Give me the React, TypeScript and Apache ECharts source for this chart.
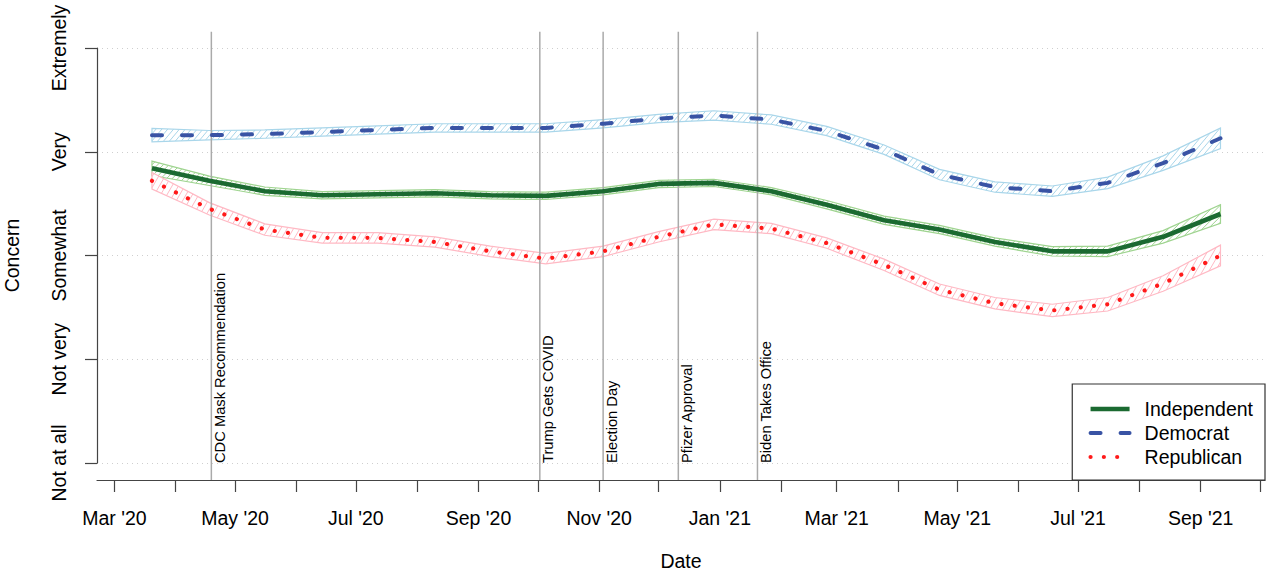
import React, { useEffect, useRef } from "react";
import * as echarts from "echarts";

// survey waves (monthly-ish)
const dates = [
  "2020-03-20", "2020-04-18", "2020-05-16", "2020-06-14", "2020-07-12",
  "2020-08-10", "2020-09-07", "2020-10-05", "2020-11-03", "2020-12-01",
  "2020-12-29", "2021-01-27", "2021-02-24", "2021-03-25", "2021-04-22",
  "2021-05-20", "2021-06-18", "2021-07-16", "2021-08-13", "2021-09-11",
];

const independent = [2.84, 2.72, 2.62, 2.58, 2.59, 2.6, 2.58, 2.575, 2.62, 2.69, 2.7, 2.62, 2.49, 2.34, 2.25, 2.13, 2.04, 2.04, 2.18, 2.4];
const democrat = [3.16, 3.16, 3.17, 3.19, 3.21, 3.23, 3.23, 3.23, 3.27, 3.32, 3.35, 3.31, 3.2, 3.02, 2.78, 2.66, 2.62, 2.7, 2.89, 3.13];
const republican = [2.72, 2.45, 2.25, 2.17, 2.17, 2.13, 2.04, 1.97, 2.04, 2.18, 2.3, 2.26, 2.12, 1.91, 1.67, 1.54, 1.47, 1.53, 1.73, 2.0];

// half widths of the confidence bands
const independentCI = [0.07, 0.045, 0.04, 0.035, 0.035, 0.035, 0.035, 0.035, 0.035, 0.035, 0.035, 0.035, 0.04, 0.04, 0.04, 0.04, 0.045, 0.05, 0.06, 0.09];
const democratCI = [0.065, 0.045, 0.04, 0.04, 0.04, 0.04, 0.04, 0.04, 0.04, 0.04, 0.045, 0.045, 0.045, 0.045, 0.05, 0.05, 0.05, 0.055, 0.07, 0.1];
const republicanCI = [0.08, 0.06, 0.055, 0.05, 0.05, 0.05, 0.05, 0.05, 0.05, 0.05, 0.05, 0.05, 0.05, 0.055, 0.055, 0.055, 0.06, 0.065, 0.075, 0.1];

const eventNames = ["CDC Mask Recommendation", "Trump Gets COVID", "Election Day", "Pfizer Approval", "Biden Takes Office"];
const eventDates = ["2020-04-19", "2020-10-02", "2020-11-03", "2020-12-11", "2021-01-20"];

const levels = ["Not at all", "Not very", "Somewhat", "Very", "Extremely"];
const tickMonths = [
  "2020-03-01", "2020-04-01", "2020-05-01", "2020-06-01", "2020-07-01",
  "2020-08-01", "2020-09-01", "2020-10-01", "2020-11-01", "2020-12-01",
  "2021-01-01", "2021-02-01", "2021-03-01", "2021-04-01", "2021-05-01",
  "2021-06-01", "2021-07-01", "2021-08-01", "2021-09-01", "2021-10-01",
];
const monthNames = ["Jan", "Feb", "Mar", "Apr", "May", "Jun", "Jul", "Aug", "Sep", "Oct", "Nov", "Dec"];

const xRange = ["2020-02-21T05:00:00", "2021-10-03T12:00:00"];
const eventLineRange = [-0.164, 4.157];

const FONT = "'Liberation Sans', Arial, Helvetica, sans-serif";
const t = (s: string) => echarts.time.parse(s).getTime();

const band = (mid: number[], half: number[], color: string, angle: number, gap: number) => ({
  type: "custom",
  silent: true,
  z: 2,
  data: [[t(dates[0]), mid[0]]],
  renderItem: (params: any, api: any) => {
    const up = dates.map((d, i) => api.coord([t(d), mid[i] + half[i]]));
    const lo = dates.map((d, i) => api.coord([t(d), mid[i] - half[i]]));
    const poly = up.concat(lo.slice().reverse());
    const a = (angle * Math.PI) / 180;
    const nx = Math.sin(a);
    const ny = Math.cos(a);
    const proj = poly.map((p: number[]) => p[0] * nx + p[1] * ny);
    const pMin = Math.min(...proj);
    const pMax = Math.max(...proj);
    const hatch: any[] = [];
    for (let c = Math.ceil(pMin / gap) * gap; c < pMax; c += gap) {
      const hits: number[][] = [];
      for (let k = 0; k < poly.length; k++) {
        const k2 = (k + 1) % poly.length;
        const fp = proj[k] - c;
        const fq = proj[k2] - c;
        if (fp < 0 !== fq < 0) {
          const s = fp / (fp - fq);
          hits.push([poly[k][0] + s * (poly[k2][0] - poly[k][0]), poly[k][1] + s * (poly[k2][1] - poly[k][1])]);
        }
      }
      hits.sort((u, v) => u[0] - v[0]);
      for (let k = 0; k + 1 < hits.length; k += 2) {
        hatch.push({
          type: "line",
          shape: { x1: hits[k][0], y1: hits[k][1], x2: hits[k + 1][0], y2: hits[k + 1][1] },
          style: { stroke: color, lineWidth: 1 },
        });
      }
    }
    return {
      type: "group",
      children: [
        { type: "polygon", shape: { points: poly }, style: { fill: "#fff", stroke: null } },
        ...hatch,
        { type: "polygon", shape: { points: poly }, style: { fill: null, stroke: color, lineWidth: 1.2 } },
      ],
    };
  },
});

const App: React.FC = () => {
  const chartRef = useRef<HTMLDivElement>(null);

  useEffect(() => {
    if (!chartRef.current) return;
    const chart = echarts.init(chartRef.current, undefined, { renderer: "svg" });

    const option: any = {
      animation: false,
      backgroundColor: "#fff",
      textStyle: { fontFamily: FONT },
      grid: { left: 97, right: 4, top: 48, bottom: 112, containLabel: false, outerBoundsMode: "none" },
      legend: {
        data: ["Independent", "Democrat", "Republican"],
        orient: "vertical",
        right: 4,
        bottom: 95,
        itemWidth: 39,
        itemHeight: 14,
        itemGap: 4,
        padding: [15, 12, 13, 16],
        borderColor: "#333",
        borderWidth: 1.2,
        borderRadius: 0,
        backgroundColor: "#fff",
        selectedMode: false,
        z: 10,
        itemStyle: { opacity: 0 },
        lineStyle: { width: "inherit" },
        textStyle: { fontSize: 19.5, color: "#000", fontFamily: FONT, padding: [0, 0, 0, 10] },
      },
      xAxis: {
        type: "value",
        min: t(xRange[0]),
        max: t(xRange[1]),
        offset: 17,
        name: "Date",
        nameLocation: "middle",
        nameGap: 71,
        nameTextStyle: { fontSize: 19.5, color: "#000", fontFamily: FONT },
        axisLine: { show: true, onZero: false, lineStyle: { color: "#444", width: 1.2 } },
        axisTick: {
          show: true,
          length: 12,
          customValues: tickMonths.map(t),
          lineStyle: { color: "#444", width: 1.2 },
        },
        axisLabel: {
          customValues: tickMonths.filter((_, i) => i % 2 === 0).map(t),
          fontSize: 19.5,
          color: "#000",
          fontFamily: FONT,
          margin: 28,
          formatter: (v: number) => {
            const d = new Date(v);
            return `${monthNames[d.getMonth()]} '${String(d.getFullYear()).slice(2)}`;
          },
        },
        splitLine: { show: false },
      },
      yAxis: {
        type: "value",
        min: 0,
        max: 4,
        interval: 1,
        name: "Concern",
        nameLocation: "middle",
        nameGap: 75,
        nameRotate: 90,
        nameTextStyle: { fontSize: 19.5, color: "#000", fontFamily: FONT },
        axisLine: { show: true, lineStyle: { color: "#444", width: 1.2 } },
        axisTick: { show: true, length: 12, lineStyle: { color: "#444", width: 1.2 } },
        axisLabel: {
          rotate: 90,
          margin: 28,
          fontSize: 19.5,
          color: "#000",
          fontFamily: FONT,
          formatter: (v: number) => levels[v] ?? "",
        },
        splitLine: { show: true, lineStyle: { color: "#cfcfcf", width: 1, type: [1, 4] } },
      },
      series: [
        band(independent, independentCI, "#9fd490", 45, 4),
        band(democrat, democratCI, "#a9d6ea", 50, 4.5),
        band(republican, republicanCI, "#ffb9c4", 60, 5.5),
        {
          type: "custom",
          silent: true,
          z: 3,
          data: eventDates.map((d, i) => [t(d), i]),
          renderItem: (params: any, api: any) => {
            const x = api.value(0);
            const top = api.coord([x, eventLineRange[1]]);
            const bot = api.coord([x, eventLineRange[0]]);
            const base = api.coord([x, 0]);
            return {
              type: "group",
              children: [
                {
                  type: "line",
                  shape: { x1: top[0], y1: top[1], x2: bot[0], y2: bot[1] },
                  style: { stroke: "#aaaaaa", lineWidth: 1.5 },
                },
                {
                  type: "text",
                  x: base[0] + 1,
                  y: base[1],
                  rotation: Math.PI / 2,
                  style: {
                    text: eventNames[api.value(1)],
                    fontSize: 14.7,
                    fontFamily: FONT,
                    fill: "#000",
                    align: "left",
                    verticalAlign: "top",
                  },
                },
              ],
            };
          },
        },
        {
          name: "Independent",
          type: "line",
          z: 4,
          symbol: "none",
          data: dates.map((d, i) => [t(d), independent[i]]),
          lineStyle: { color: "#1b6a31", width: 4.6, type: "solid" },
          itemStyle: { color: "#1b6a31" },
        },
        {
          name: "Democrat",
          type: "line",
          z: 4,
          symbol: "none",
          data: dates.map((d, i) => [t(d), democrat[i]]),
          lineStyle: { color: "#3953a4", width: 4, type: [10, 20], cap: "round" },
          itemStyle: { color: "#3953a4" },
        },
        {
          name: "Republican",
          type: "line",
          z: 4,
          symbol: "none",
          data: dates.map((d, i) => [t(d), republican[i]]),
          lineStyle: { color: "#ff1a1a", width: 4.2, type: [0.01, 13.3], cap: "round" },
          itemStyle: { color: "#ff1a1a" },
        },
      ],
    };

    chart.setOption(option);

    const handleResize = () => chart.resize();
    window.addEventListener("resize", handleResize);
    return () => {
      window.removeEventListener("resize", handleResize);
      chart.dispose();
    };
  }, []);

  return (
    <div
      ref={chartRef}
      style={{ position: "fixed", left: 0, top: 0, width: "1269px", height: "575px", background: "#fff" }}
    />
  );
};

export default App;
